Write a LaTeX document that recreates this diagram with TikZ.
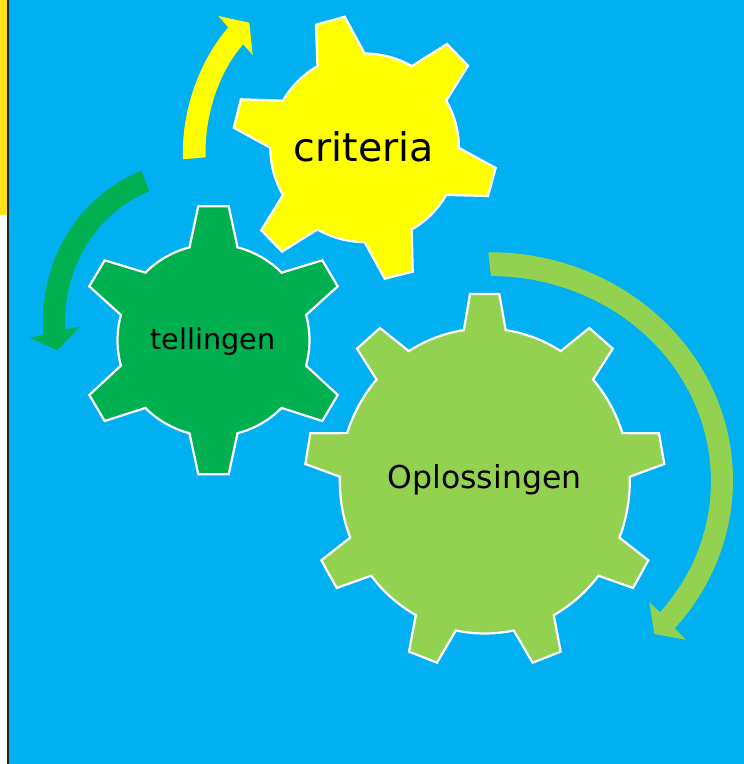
\documentclass[tikz,border=0pt]{standalone}
\usepackage{fontspec}
\setmainfont{DejaVu Sans}
\definecolor{skybg}{HTML}{00B0F0}
\definecolor{stripgold}{HTML}{FFE01A}
\definecolor{darkgear}{HTML}{00AF50}
\definecolor{lightgear}{HTML}{92D250}
\definecolor{yellowgear}{HTML}{FFFF00}
\tikzset{
  gearshape/.style={draw=white,line width=2.2pt,line join=miter,miter limit=4},
  gearlabel/.style={anchor=base,text=black,inner sep=0pt,outer sep=0pt},
}
\begin{document}
\begin{tikzpicture}[x=1pt,y=1pt]
\useasboundingbox (0,0) rectangle (744,764);
% background
\fill[white] (0,0) rectangle (744,764);
\fill[skybg] (8,0) rectangle (744,764);
\fill[stripgold] (0,549) rectangle (7,764);
\fill[black!85] (6.8,0) rectangle (8.6,764);
% curved arrows
\fill[yellowgear] (183,604.7) .. controls (181,654) and (200,704) .. (228.3,736.7)
  -- (218.3,748) -- (249.3,741.3) -- (252.7,709) -- (243.3,719.7)
  .. controls (220,694) and (204,649) .. (205.7,606.7) -- cycle;
\fill[darkgear] (141.3,593) .. controls (80,569) and (38,504) .. (43.3,429)
  -- (29.3,426.3) -- (57.3,413.7) -- (80,437.3) -- (65.3,434.7)
  .. controls (62,494) and (95,551) .. (149.3,572.7) -- cycle;
\fill[lightgear] (488.3,511.7) arc[start angle=90.4,end angle=-40.5,x radius=243,y radius=228]
  -- (685.7,124.3) -- (654.3,130) -- (649.3,162) -- (660,151.7)
  arc[start angle=-39.8,end angle=90,x radius=220,y radius=205] -- cycle;
% yellow gear
\begin{scope}[shift={(364.6,616.2)}]
\draw[gearshape,fill=yellowgear]
  (90:94.3) arc[start angle=90,end angle=60,radius=94.3]
  -- (82.4,103.8) -- (103.4,82.1) -- (30:94.3) arc[start angle=30,end angle=0,radius=94.3]
  -- (131.1,-20.2) -- (123.4,-48.2) -- (-30:94.3) arc[start angle=-30,end angle=-60,radius=94.3]
  -- (48.1,-123.9) -- (20.1,-130.9) -- (-90:94.3) arc[start angle=-90,end angle=-120,radius=94.3]
  -- (-82.6,-103.9) -- (-103.3,-82.5) -- (-150:94.3) arc[start angle=-150,end angle=-180,radius=94.3]
  -- (-130.9,20.1) -- (-123.6,48.5) -- (150:94.3) arc[start angle=150,end angle=120,radius=94.3]
  -- (-48.6,123.1) -- (-19.9,131.1) -- cycle;
\end{scope}
% dark green gear
\begin{scope}[shift={(213.5,423.7)}]
\draw[gearshape,fill=darkgear]
  (75.5:96) arc[start angle=75.5,end angle=44.8,radius=96]
  -- (108.8,80) -- (124.2,54) -- (15.3:96) arc[start angle=15.3,end angle=-15.3,radius=96]
  -- (124.2,-54.7) -- (108.8,-80.7) -- (-44.8:96) arc[start angle=-44.8,end angle=-75.5,radius=96]
  -- (15.2,-134) -- (-15.2,-134) -- (-104.5:96) arc[start angle=-104.5,end angle=-135.2,radius=96]
  -- (-108.8,-80.7) -- (-124.2,-54.7) -- (-164.7:96) arc[start angle=-164.7,end angle=-195.3,radius=96]
  -- (-124.2,54) -- (-108.8,80) -- (135.2:96) arc[start angle=135.2,end angle=104.5,radius=96]
  -- (-15.2,134) -- (15.2,134) -- cycle;
\end{scope}
% light green gear
\begin{scope}[shift={(484.8,283)}]
\draw[gearshape,fill=lightgear]
  (81.7:145 and 152.5) arc[start angle=81.7,end angle=58.4,x radius=145,y radius=152.5]
  -- (104.5,153) -- (127.9,132.3) -- (41.7:145 and 152.5) arc[start angle=41.7,end angle=18.3,x radius=145,y radius=152.5]
  -- (174.2,47.7) -- (179.5,17) -- (1.6:145 and 152.5) arc[start angle=1.6,end angle=-21.8,x radius=145,y radius=152.5]
  -- (163.5,-79.3) -- (148.2,-107) -- (-38.4:145 and 152.5) arc[start angle=-38.4,end angle=-61.6,x radius=145,y radius=152.5]
  -- (75.9,-170.7) -- (47.9,-181.7) -- (-78.5:145 and 152.5) arc[start angle=-78.5,end angle=-101.5,x radius=145,y radius=152.5]
  -- (-47.8,-181.7) -- (-75.8,-170.7) -- (-118.4:145 and 152.5) arc[start angle=-118.4,end angle=-141.6,x radius=145,y radius=152.5]
  -- (-148.1,-107) -- (-163.5,-79.3) -- (-158.2:145 and 152.5) arc[start angle=-158.2,end angle=-181.6,x radius=145,y radius=152.5]
  -- (-179.5,17) -- (-174.5,47.7) -- (161.7:145 and 152.5) arc[start angle=161.7,end angle=138.3,x radius=145,y radius=152.5]
  -- (-127.8,132.3) -- (-104.8,153) -- (121.6:145 and 152.5) arc[start angle=121.6,end angle=98.3,x radius=145,y radius=152.5]
  -- (-14.8,187) -- (14.5,187) -- cycle;
\end{scope}
% labels
\node[gearlabel,font=\fontsize{39.5}{44}\selectfont] (criterialabel) at (364,602) {criteria};
\node[gearlabel,font=\fontsize{28.6}{32}\selectfont] (tellingenlabel) at (213,414) {tellingen};
\node[gearlabel,font=\fontsize{31.5}{36}\selectfont] (oplossingenlabel) at (484.5,275.7) {Oplossingen};
\end{tikzpicture}
\end{document}
